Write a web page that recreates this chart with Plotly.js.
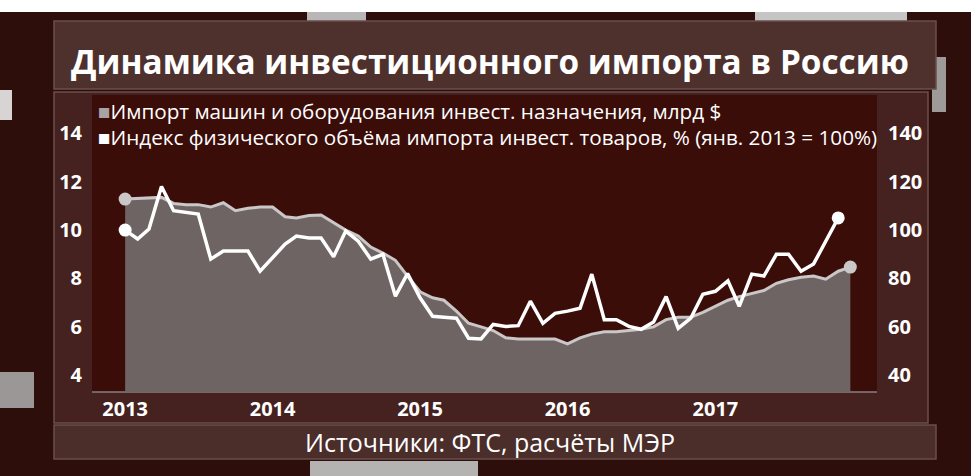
<!DOCTYPE html>
<html>
<head>
<meta charset="utf-8">
<script src="https://cdn.plot.ly/plotly-3.0.1.min.js"></script>
<style>
html,body{margin:0;padding:0;background:#2d0e0b;}
#chart{width:971px;height:476px;}
</style>
</head>
<body>
<div id="chart"></div>
<script>
// ---- DATA ----
const yearLabels = ['2013', '2014', '2015', '2016', '2017'];
const months = [];
for (const yr of yearLabels) {
  for (let m = 1; m <= 12; m++) months.push(yr + '-' + String(m).padStart(2, '0') + '-01');
}
// Импорт машин и оборудования инвест. назначения, млрд $ (Jan 2013 – Dec 2017)
const importBn = [
  11.28, 11.30, 11.30, 11.35, 11.10, 11.05, 11.05, 10.95, 11.13, 10.80, 10.90, 10.95,
  10.95, 10.55, 10.50, 10.60, 10.62, 10.30, 10.00, 9.75, 9.30, 9.05, 8.75, 8.10,
  7.45, 7.20, 7.10, 6.65, 6.15, 6.00, 5.85, 5.55, 5.50, 5.50, 5.50, 5.50,
  5.30, 5.55, 5.70, 5.80, 5.80, 5.85, 5.90, 6.00, 6.30, 6.40, 6.40, 6.60,
  6.85, 7.10, 7.25, 7.38, 7.50, 7.80, 7.95, 8.05, 8.10, 7.97, 8.30, 8.47
];
// Индекс физического объёма импорта инвест. товаров, % (янв. 2013 = 100%) (Jan 2013 – Nov 2017)
const volumeIndex = [
  100.0, 96.3, 100.4, 118.0, 108.0, 107.3, 106.6, 88.0, 91.3, 91.3, 91.3, 83.0,
  88.5, 94.2, 97.5, 96.7, 96.7, 89.0, 99.6, 95.4, 88.0, 90.0, 72.7, 82.0,
  72.0, 64.4, 64.0, 63.6, 55.3, 55.0, 61.0, 60.2, 60.5, 70.6, 61.5, 65.6,
  66.5, 67.7, 81.8, 63.0, 63.0, 60.2, 59.0, 62.0, 72.5, 59.4, 63.6, 73.5,
  74.7, 79.0, 68.5, 81.8, 81.0, 90.0, 90.0, 83.0, 86.0, 95.5, 105.0
];
const seriesNames = [
  'Импорт машин и оборудования инвест. назначения, млрд $',
  'Индекс физического объёма импорта инвест. товаров, % (янв. 2013 = 100%)'
];
const leftTicks = [4, 6, 8, 10, 12, 14];
const rightTicks = [40, 60, 80, 100, 120, 140];
const titleText = 'Динамика инвестиционного импорта в Россию';
const sourceText = 'Источники: ФТС, расчёты МЭР';

// ---- LAYOUT HELPERS (pixel -> paper) ----
const L = 92, R = 877, T = 95, B = 392, W = 971, H = 476;
const px = x => (x - L) / (R - L);
const py = y => (B - y) / (B - T);
function rect(x0, y0, x1, y1, fill, line) {
  return {type: 'rect', xref: 'paper', yref: 'paper', layer: 'below',
    x0: px(x0), x1: px(x1), y0: py(y1), y1: py(y0),
    fillcolor: fill, line: line ? {color: line, width: 1.5} : {width: 0}};
}
const FONT = '"Open Sans", Roboto, sans-serif';

const wN = volumeIndex.length, gN = importBn.length;
const traces = [
  {x: months.slice(0, gN), y: importBn, type: 'scatter', mode: 'lines', fill: 'tozeroy',
   fillcolor: '#6e6463', line: {color: '#cbc7c7', width: 3}, yaxis: 'y', showlegend: false, hoverinfo: 'skip'},
  {x: [months[0], months[gN - 1]], y: [importBn[0], importBn[gN - 1]], type: 'scatter', mode: 'markers',
   marker: {color: '#cbc7c7', size: 13}, yaxis: 'y', showlegend: false, hoverinfo: 'skip'},
  {x: months.slice(0, wN), y: volumeIndex, type: 'scatter', mode: 'lines',
   line: {color: '#ffffff', width: 3.5}, yaxis: 'y2', showlegend: false, hoverinfo: 'skip'},
  {x: [months[0], months[wN - 1]], y: [volumeIndex[0], volumeIndex[wN - 1]], type: 'scatter', mode: 'markers',
   marker: {color: '#ffffff', size: 13}, yaxis: 'y2', showlegend: false, hoverinfo: 'skip'}
];

const shapes = [
  rect(0, 0, W, 12, '#ffffff'),
  // decorative background patches
  rect(307, 12, 366, 21, '#b8b6b6'),
  rect(755, 12, 907, 21, '#c6c5c5'),
  rect(932, 57, 946, 112, '#9e9a9a'),
  rect(0, 90, 12, 120, '#d8d4d4'),
  rect(0, 372, 34, 408, '#9c9797'),
  rect(310, 461, 478, 476, '#b5b2b2'),
  // title panel
  rect(54, 21, 936, 89, '#4e302d', '#6a4f4c'),
  // chart panel
  rect(54, 92, 928, 423, '#45221f', '#6a4f4c'),
  // plot area
  rect(L, T, R, B, '#3b0d09'),
  // bottom border of plot
  {type: 'line', xref: 'paper', yref: 'paper', layer: 'below', x0: px(L), x1: px(R), y0: 0, y1: 0,
   line: {color: '#8a7e7d', width: 1.5}},
  // source panel
  rect(54, 425, 936, 459, '#4b2d2a', '#6a4f4c')
];

const annotations = [
  {xref: 'paper', yref: 'paper', x: px(96), y: py(111), xanchor: 'left', yanchor: 'middle', showarrow: false,
   text: '<span style="color:#a8a4a4">■</span>' + seriesNames[0],
   font: {family: FONT, size: 20.7, color: '#ffffff'}},
  {xref: 'paper', yref: 'paper', x: px(96), y: py(137), xanchor: 'left', yanchor: 'middle', showarrow: false,
   text: '<span style="color:#ffffff">■</span>' + seriesNames[1],
   font: {family: FONT, size: 20.7, color: '#ffffff'}},
  {xref: 'paper', yref: 'paper', x: px(490), y: py(442), xanchor: 'center', yanchor: 'middle', showarrow: false,
   text: sourceText, font: {family: FONT, size: 25, color: '#ffffff'}}
];

const layout = {
  width: W, height: H,
  margin: {l: L, r: W - R, t: T, b: H - B, pad: 0},
  paper_bgcolor: '#2d0e0b',
  plot_bgcolor: 'rgba(0,0,0,0)',
  title: {text: titleText, x: 490 / W, xanchor: 'center', xref: 'container',
          y: 1 - 62 / H, yanchor: 'middle', yref: 'container',
          font: {family: FONT, size: 33.3, color: '#ffffff', weight: 'bold'}},
  showlegend: false,
  xaxis: {type: 'date', range: ['2012-10-11', '2018-02-05'],
          tickvals: yearLabels.map(y => y + '-01-01'), ticktext: yearLabels,
          showgrid: false, zeroline: false, showline: false, ticks: '', ticklabelstandoff: 3,
          tickfont: {family: FONT, size: 20, color: '#ffffff', weight: 'bold'}, fixedrange: true},
  yaxis: {range: [3.31, 15.58], tickvals: leftTicks, ticktext: leftTicks.map(String),
          showgrid: false, zeroline: false, showline: false, ticks: '', ticklabelstandoff: 9,
          tickfont: {family: FONT, size: 20, color: '#ffffff', weight: 'bold'}, fixedrange: true},
  yaxis2: {range: [33.1, 155.8], overlaying: 'y', side: 'right', tickvals: rightTicks, ticktext: rightTicks.map(String),
          showgrid: false, zeroline: false, showline: false, ticks: '', ticklabelstandoff: 10,
          tickfont: {family: FONT, size: 20, color: '#ffffff', weight: 'bold'}, fixedrange: true},
  shapes: shapes,
  annotations: annotations
};

Plotly.newPlot('chart', traces, layout, {displayModeBar: false, staticPlot: true});
</script>
</body>
</html>
